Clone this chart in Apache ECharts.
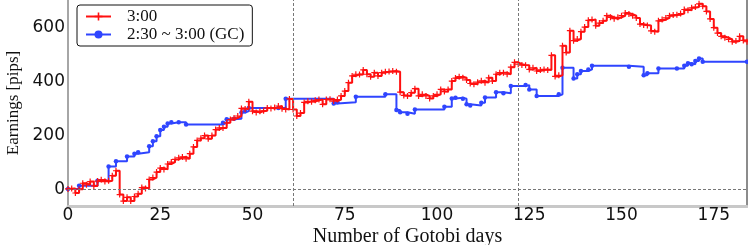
<!DOCTYPE html>
<html><head><meta charset="utf-8">
<script src="https://cdn.jsdelivr.net/npm/echarts@6/dist/echarts.min.js"></script>
<style>html,body{margin:0;padding:0;background:#fff}#c{width:748px;height:245px}</style>
</head><body><div id="c"></div>
<script>
// Red series "3:00": cumulative earnings per Gotobi day (index = day)
const redEarnings = [
  3, 5, -12, 2, 24, 18, 30, 14, 32, 37,
  30, 33, 52, 70, -18, -42, -28, -42, -25, -15,
  8, 5, 38, 45, 65, 80, 75, 95, 102, 112,
  118, 121, 114, 133, 158, 182, 190, 200, 188, 200,
  222, 228, 228, 247, 259, 265, 272, 300, 298, 325,
  290, 285, 290, 291, 302, 300, 303, 309, 299, 296,
  335, 296, 272, 283, 322, 326, 325, 330, 333, 315,
  333, 334, 327, 333, 346, 364, 395, 420, 426, 425,
  442, 426, 417, 432, 420, 432, 435, 436, 438, 435,
  360, 348, 346, 358, 373, 346, 352, 346, 337, 346,
  352, 370, 362, 370, 401, 412, 417, 413, 405, 392,
  389, 397, 402, 395, 413, 401, 426, 432, 432, 426,
  452, 470, 463, 460, 459, 444, 450, 438, 442, 444,
  442, 496, 418, 422, 531, 506, 587, 550, 556, 583,
  600, 625, 628, 605, 615, 623, 642, 636, 631, 636,
  642, 652, 648, 642, 634, 611, 608, 606, 586, 583,
  623, 628, 634, 642, 645, 646, 650, 665, 662, 671,
  674, 686, 677, 658, 630, 598, 578, 566, 561, 555,
  546, 549, 566, 551, 546
];
// Blue series "2:30 ~ 3:00 (GC)": sparse trade days and cumulative earnings
const blueDays = [0,3,8,11,13,16,18,19,22,23,24,25,26,27,28,30,32,42,43,45,47,48,49,57,59,72,73,78,86,89,90,92,94,102,104,105,107,108,109,112,113,116,118,120,124,125,127,133,134,137,138,139,141,142,152,156,157,160,165,167,168,169,170,171,172,184];
const blueEarnings = [3,15,33,86,105,123,133,138,160,179,197,220,232,244,249,249,241,247,260,262,285,290,302,302,336,318,323,343,352,294,286,280,296,306,337,339,336,315,311,321,340,360,356,383,386,370,346,352,450,410,426,438,444,457,454,422,430,447,447,457,467,463,475,484,472,472];
const xTicks = [0,25,50,75,100,125,150,175];
const yTicks = [0,200,400,600];
const refDays = [61,122];
const seriesNames = ['3:00','2:30 ~ 3:00 (GC)'];

const redData = redEarnings.map((v,i)=>[i,v]);
const blueData = blueDays.map((d,i)=>[d,blueEarnings[i]]);
const plus = 'path://M1.6,0H2.4V1.6H4V2.4H2.4V4H1.6V2.4H0V1.6H1.6Z';

const chart = echarts.init(document.getElementById('c'), null, {renderer:'canvas'});
chart.setOption({
  animation:false,
  backgroundColor:'#fff',
  grid:{left:68, right:1, top:0, bottom:39, containLabel:false, outerBoundsMode:'none'},
  legend:{
    orient:'vertical', left:77, top:5,
    padding:[3,8,3,8],
    backgroundColor:'#fff', borderColor:'#111', borderWidth:1, borderRadius:3,
    itemWidth:25, itemHeight:10, itemGap:1,
    textStyle:{fontFamily:'Liberation Serif', fontSize:17, color:'#111', lineHeight:16, padding:[0,0,0,11]},
    data:seriesNames
  },
  xAxis:{
    type:'value', min:0, max:184,
    axisLine:{show:true, onZero:false, lineStyle:{color:'#c8c8c8', width:3}},
    axisTick:{show:false},
    splitLine:{show:false},
    axisLabel:{customValues:xTicks, margin:1, fontFamily:'DejaVu Sans', fontSize:17, color:'#111'},
    name:'Number of Gotobi days', nameLocation:'middle', nameGap:20.5, nameMoveOverlap:false,
    nameTextStyle:{fontFamily:'Liberation Serif', fontSize:20, color:'#111'}
  },
  yAxis:[{
    type:'value', min:-60, max:700,
    axisLine:{show:true, onZero:false, lineStyle:{color:'#888', width:1.5}},
    axisTick:{show:false},
    splitLine:{show:false},
    axisLabel:{customValues:yTicks, margin:3, fontFamily:'DejaVu Sans', fontSize:17, color:'#111'},
    name:'Earnings [pips]', nameLocation:'middle', nameGap:46,
    nameTextStyle:{fontFamily:'Liberation Serif', fontSize:17, color:'#111'}
  },{
    type:'value', min:-60, max:700, position:'right',
    axisLine:{show:true, onZero:false, lineStyle:{color:'#666', width:1.5}},
    axisTick:{show:false}, axisLabel:{show:false}, splitLine:{show:false}
  }],
  series:[
    {
      type:'line', name:'ref', data:[], z:1, silent:true,
      markLine:{
        silent:true, symbol:'none', label:{show:false},
        lineStyle:{type:[3,2], color:'#777', width:1},
        data:[...refDays.map(d=>({xAxis:d})), {yAxis:0}]
      }
    },
    {
      type:'line', name:seriesNames[1], data:blueData, step:'end', z:3,
      color:'#2f45ff',
      lineStyle:{color:'#2f45ff', width:2},
      symbol:'circle', symbolSize:4.5,
      itemStyle:{color:'#2f45ff'}
    },
    {
      type:'line', name:seriesNames[0], data:redData, step:'end', z:4,
      color:'#ff1010',
      lineStyle:{color:'#ff1010', width:2},
      symbol:plus, symbolSize:6,
      itemStyle:{color:'#ff1010'}
    }
  ]
});
</script>
</body></html>
